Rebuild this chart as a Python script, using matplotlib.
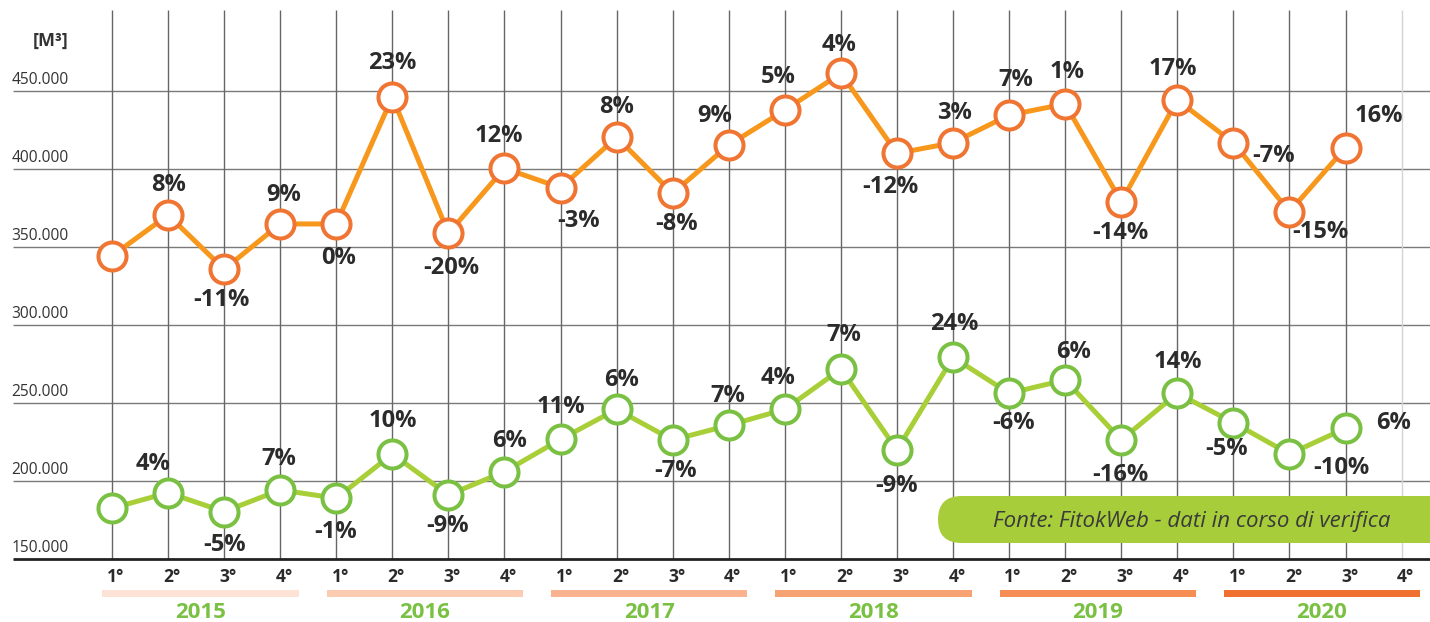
import numpy as np
import matplotlib
matplotlib.use('Agg')
import matplotlib.pyplot as plt
from matplotlib.patches import FancyBboxPatch
from matplotlib.transforms import IdentityTransform

plt.rcParams['font.family'] = ['Open Sans', 'DejaVu Sans']

# dati (m3 per trimestre)
years = ['2015', '2016', '2017', '2018', '2019', '2020']
quarters = ['1°', '2°', '3°', '4°']
orange_vals = [344200, 370400, 335700, 364700, 364700, 446000, 358700, 400300,
               387900, 420200, 384300, 415200, 437600, 461100, 409900, 416700,
               434400, 441500, 378900, 444000, 416700, 372500, 413500]
green_vals = [182700, 192600, 180500, 194400, 189100, 217400, 191200, 206100,
              226800, 246000, 226400, 235800, 246000, 271800, 220000, 279300,
              256300, 264800, 226400, 256300, 237500, 217400, 233900]
orange_pct = [None, '8%', '-11%', '9%', '0%', '23%', '-20%', '12%', '-3%', '8%',
              '-8%', '9%', '5%', '4%', '-12%', '3%', '7%', '1%', '-14%', '17%',
              '-7%', '-15%', '16%']
green_pct = [None, '4%', '-5%', '7%', '-1%', '10%', '-9%', '6%', '11%', '6%',
             '-7%', '7%', '4%', '7%', '-9%', '24%', '-6%', '6%', '-16%', '14%',
             '-5%', '-10%', '6%']
yticks = [150000, 200000, 250000, 300000, 350000, 400000, 450000]

# posizione etichette (pixel, dy verso il basso)
orange_off = [None, (0, -30), (-3, 31), (3, -29), (2, 34), (0, -34), (3, 35), (-6, -32),
              (18, 33), (0, -30), (4, 31), (-14, -29), (-7, -33), (-2, -28), (-7, 34),
              (1, -30), (7, -35), (2, -32), (-1, 31), (-4, -31), (40, 13), (31, 20),
              (33, -32)]
green_off = [None, (-15, -29), (0, 33), (-1, -31), (-1, 34), (0, -33), (-1, 31), (5, -31),
             (0, -32), (5, -29), (3, 31), (-1, -29), (-7, -31), (3, -34), (0, 36),
             (1, -33), (4, 30), (8, -28), (-1, 35), (1, -31), (-7, 26), (52, 14),
             (48, -5)]

W, H = 1430, 622
X0, STEP = 112, 56.07
Y450, PX50K = 90.7, 78.1


def px_x(p):
    return (p - X0) / STEP


def px_y(p):
    return 450000 - (p - Y450) / PX50K * 50000


fig = plt.figure(figsize=(W / 100, H / 100), dpi=100)
ax = fig.add_axes([0, 0, 1, 1])
ax.set_xlim(px_x(0), px_x(W))
ax.set_ylim(px_y(H), px_y(0))
ax.axis('off')

n = len(years) * 4
xs = np.arange(n)

# griglia
ax.hlines(yticks[1:], px_x(13), px_x(W), color='#7a7a7a', lw=1, zorder=1)
ax.vlines(xs[:-1], yticks[0], px_y(10), color='#666666', lw=1, zorder=1)
ax.vlines(xs[-1], yticks[0], px_y(10), color='#d4d4d4', lw=1, zorder=1)
ax.hlines(yticks[0], px_x(13), px_x(W), color='#222222', lw=2, zorder=2)

for v in yticks:
    ax.annotate(f'{v:,}'.replace(',', '.'), (px_x(69), v), xytext=(0, 7),
                textcoords='offset pixels', ha='right', va='baseline',
                fontsize=11.2, color='#333333')
ax.text(px_x(69), px_y(41), '[M³]', ha='right', va='center', fontsize=13,
        fontweight='bold', color='#333333')

# sorgente
box = FancyBboxPatch((938, H - 543), 540, 47, boxstyle='round,pad=0,rounding_size=23.5',
                     transform=IdentityTransform(), facecolor='#a8cd3a',
                     edgecolor='none', zorder=3)
ax.add_patch(box)
ax.text(1192, H - 521, 'Fonte: FitokWeb - dati in corso di verifica',
        transform=IdentityTransform(), ha='center', va='center', fontsize=16,
        style='italic', color='#3a3a3a', zorder=4)

# serie
ax.plot(xs[:len(orange_vals)], orange_vals, color='#f7981d', lw=3.6, zorder=5)
ax.plot(xs[:len(orange_vals)], orange_vals, 'o', ms=20.2, mfc='white', mec='#f07532',
        mew=2.9, zorder=6)
ax.plot(xs[:len(green_vals)], green_vals, color='#a9cf38', lw=3.6, zorder=5)
ax.plot(xs[:len(green_vals)], green_vals, 'o', ms=20.2, mfc='white', mec='#7ac143',
        mew=2.9, zorder=6)

for vals, pcts, offs in [(orange_vals, orange_pct, orange_off),
                         (green_vals, green_pct, green_off)]:
    for i, (v, p, o) in enumerate(zip(vals, pcts, offs)):
        if p is None:
            continue
        ax.annotate(p, (i, v), xytext=(o[0], -o[1]), textcoords='offset pixels',
                    ha='center', va='center', fontsize=17, fontweight='bold',
                    color='#2b2b2b', zorder=7)

# asse x: trimestri e anni
bar_colors = ['#fde3d5', '#fbcbb2', '#f9b38e', '#f7a273', '#f58d55', '#f07030']
for k, yr in enumerate(years):
    for q, ql in enumerate(quarters):
        ax.text(4 * k + q + 4 / STEP, px_y(577), ql, ha='center', va='center',
                fontsize=12.5, fontweight='bold', color='#2b2b2b')
    ax.barh(px_y(593.7), 3.5, left=4 * k - 0.17, height=7.5 * 50000 / PX50K,
            color=bar_colors[k], zorder=2)
    ax.text(4 * k + 1.58, px_y(613), yr, ha='center', va='center', fontsize=16,
            fontweight='bold', color='#7ac143')

fig.savefig('out.png', dpi=100)
